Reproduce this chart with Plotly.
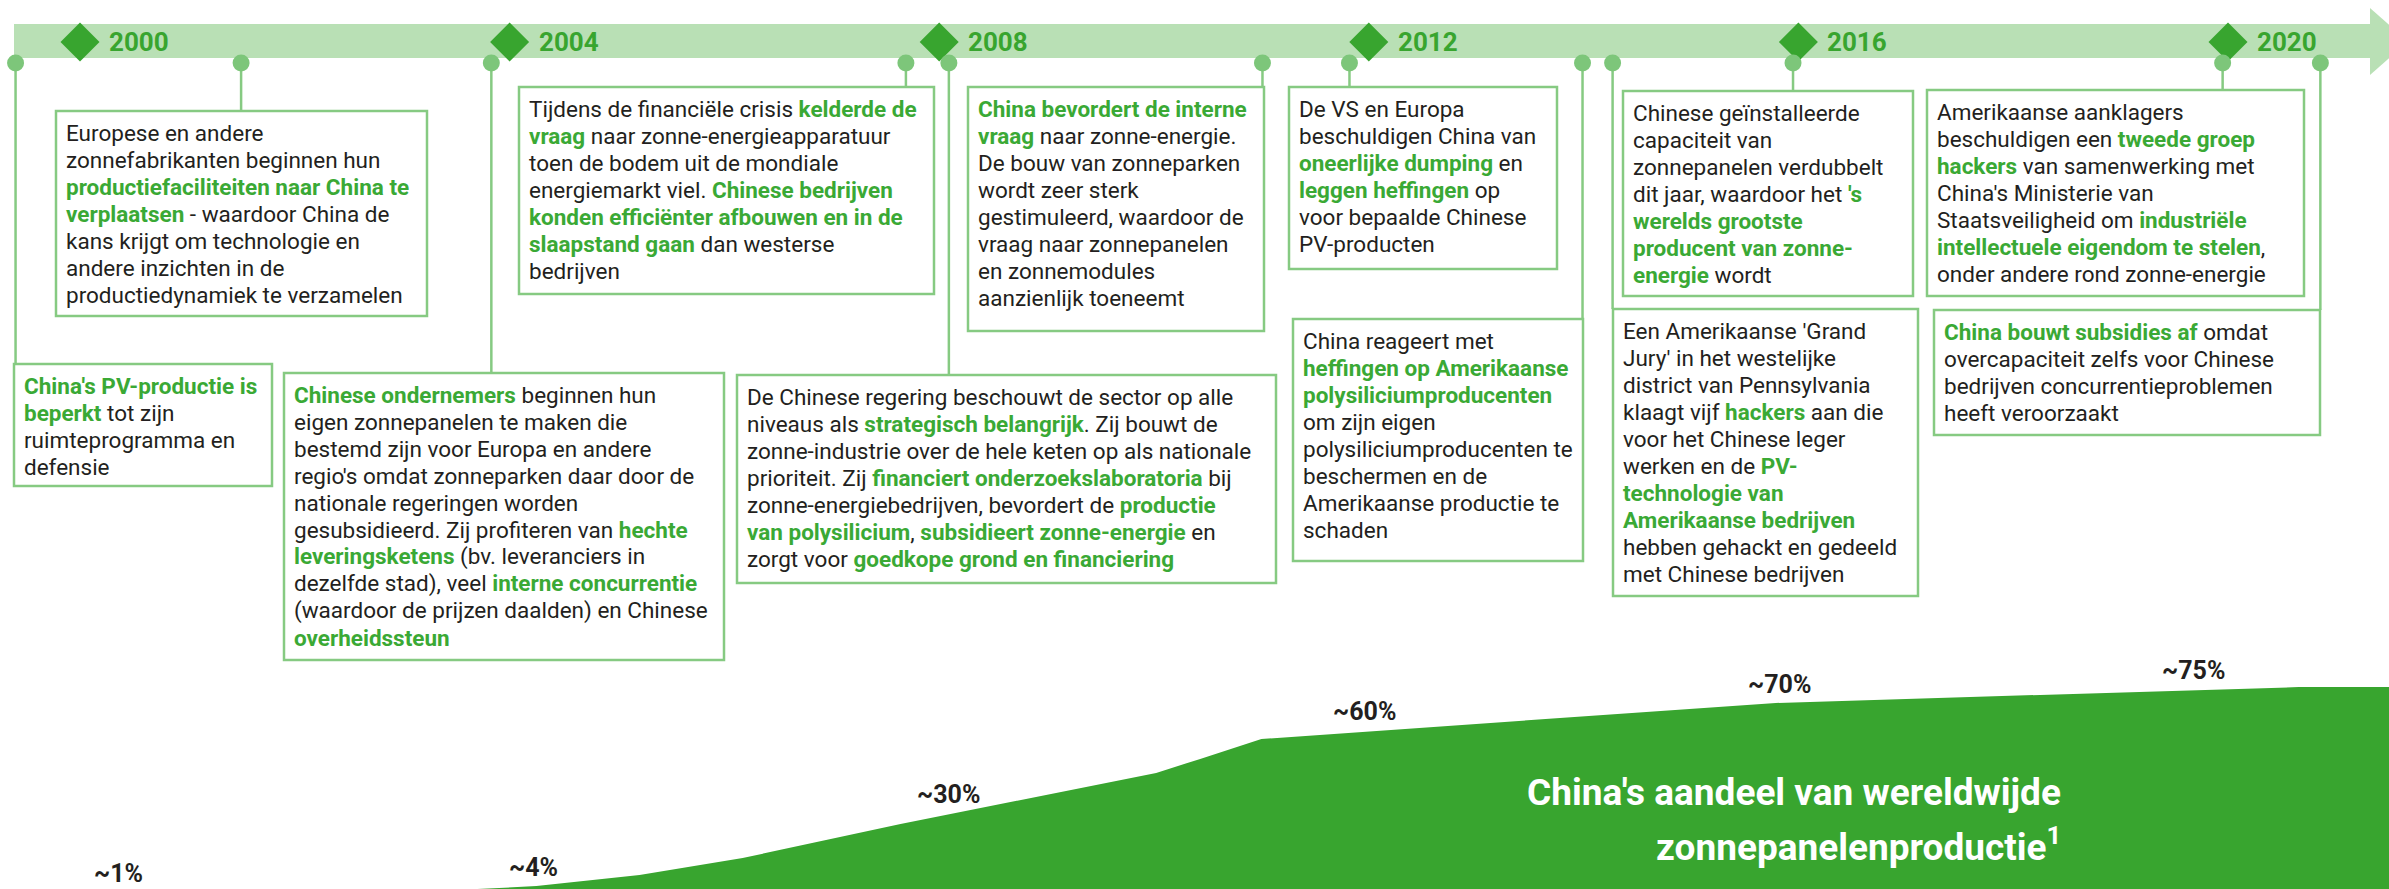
import re
import plotly.graph_objects as go

# timeline years and China's share of world solar panel production
year_ticks = [2000, 2004, 2008, 2012, 2016, 2020]
share_labels = ["~1%", "~4%", "~30%", "~60%", "~70%", "~75%"]

# outline of the green area (year, share %)
area_years = [2003.70, 2004.25, 2005.21, 2006.17, 2007.64, 2010.02, 2010.43, 2011.00, 2015.79, 2020.66, 2021.50]
area_share = [0, 1.1, 5.3, 11.7, 24.5, 43.8, 49.1, 56.6, 70.2, 76.2, 76.2]

# event dates on the timeline
event_years = [1999.40, 2001.50, 2003.83, 2007.69, 2008.09, 2011.01,
               2011.82, 2013.99, 2014.27, 2015.95, 2019.95, 2020.86]

event_texts = [
    ["**China's PV-productie is**",
     "**beperkt** tot zijn",
     "ruimteprogramma en",
     "defensie"],
    ["Europese en andere",
     "zonnefabrikanten beginnen hun",
     "**productiefaciliteiten naar China te**",
     "**verplaatsen** - waardoor China de",
     "kans krijgt om technologie en",
     "andere inzichten in de",
     "productiedynamiek te verzamelen"],
    ["**Chinese ondernemers** beginnen hun",
     "eigen zonnepanelen te maken die",
     "bestemd zijn voor Europa en andere",
     "regio's omdat zonneparken daar door de",
     "nationale regeringen worden",
     "gesubsidieerd. Zij profiteren van **hechte**",
     "**leveringsketens** (bv. leveranciers in",
     "dezelfde stad), veel **interne concurrentie**",
     "(waardoor de prijzen daalden) en Chinese",
     "**overheidssteun**"],
    ["Tijdens de financiële crisis **kelderde de**",
     "**vraag** naar zonne-energieapparatuur",
     "toen de bodem uit de mondiale",
     "energiemarkt viel. **Chinese bedrijven**",
     "**konden efficiënter afbouwen en in de**",
     "**slaapstand gaan** dan westerse",
     "bedrijven"],
    ["De Chinese regering beschouwt de sector op alle",
     "niveaus als **strategisch belangrijk**. Zij bouwt de",
     "zonne-industrie over de hele keten op als nationale",
     "prioriteit. Zij **financiert onderzoekslaboratoria** bij",
     "zonne-energiebedrijven, bevordert de **productie**",
     "**van polysilicium**, **subsidieert zonne-energie** en",
     "zorgt voor **goedkope grond en financiering**"],
    ["**China bevordert de interne**",
     "**vraag** naar zonne-energie.",
     "De bouw van zonneparken",
     "wordt zeer sterk",
     "gestimuleerd, waardoor de",
     "vraag naar zonnepanelen",
     "en zonnemodules",
     "aanzienlijk toeneemt"],
    ["De VS en Europa",
     "beschuldigen China van",
     "**oneerlijke dumping** en",
     "**leggen heffingen** op",
     "voor bepaalde Chinese",
     "PV-producten"],
    ["China reageert met",
     "**heffingen op Amerikaanse**",
     "**polysiliciumproducenten**",
     "om zijn eigen",
     "polysiliciumproducenten te",
     "beschermen en de",
     "Amerikaanse productie te",
     "schaden"],
    ["Een Amerikaanse 'Grand",
     "Jury' in het westelijke",
     "district van Pennsylvania",
     "klaagt vijf **hackers** aan die",
     "voor het Chinese leger",
     "werken en de **PV-**",
     "**technologie van**",
     "**Amerikaanse bedrijven**",
     "hebben gehackt en gedeeld",
     "met Chinese bedrijven"],
    ["Chinese geïnstalleerde",
     "capaciteit van",
     "zonnepanelen verdubbelt",
     "dit jaar, waardoor het **'s**",
     "**werelds grootste**",
     "**producent van zonne-**",
     "**energie** wordt"],
    ["Amerikaanse aanklagers",
     "beschuldigen een **tweede groep**",
     "**hackers** van samenwerking met",
     "China's Ministerie van",
     "Staatsveiligheid om **industriële**",
     "**intellectuele eigendom te stelen**,",
     "onder andere rond zonne-energie"],
    ["**China bouwt subsidies af** omdat",
     "overcapaciteit zelfs voor Chinese",
     "bedrijven concurrentieproblemen",
     "heeft veroorzaakt"],
]

# box frames in page pixels (left, top, right, bottom)
boxes = [
    (14, 364, 272, 486), (56, 111, 427, 316), (284, 373, 724, 660),
    (519, 87, 934, 294), (737, 375, 1276, 583), (968, 87, 1264, 331),
    (1289, 87, 1557, 269), (1293, 319, 1583, 561), (1613, 309, 1918, 596),
    (1623, 91, 1913, 296), (1927, 90, 2304, 296), (1934, 310, 2320, 435),
]

W, H = 2389, 889
PX_PER_PCT = 2.65
FONT = "Roboto, Liberation Sans, sans-serif"
GREEN = "#38a52f"
GREEN_TXT = "#3aa935"
LIGHT = "#b9e0b5"
BORDER = "#86ca82"
DOT = "#7dc67a"
INK = "#231f20"

label_x = [2000.36, 2004.22, 2008.09, 2011.96, 2015.82, 2019.68]
label_y = [5.7, 8.3, 35.5, 66.8, 77.0, 82.3]


def rich(s):
    return re.sub(r"\*\*(.+?)\*\*",
                  lambda m: "<b><span style='color:%s'>%s</span></b>" % (GREEN_TXT, m.group(1)), s)


fig = go.Figure()

# share area
fig.add_trace(go.Scatter(
    x=area_years, y=area_share, mode="lines", fill="tozeroy",
    fillcolor=GREEN, line=dict(color=GREEN, width=0), hoverinfo="skip",
    showlegend=False))

# year diamonds on the band
fig.add_trace(go.Scatter(
    x=year_ticks, y=[42] * len(year_ticks), xaxis="x", yaxis="y2",
    mode="markers", marker=dict(symbol="diamond", size=30, color=GREEN),
    showlegend=False, hoverinfo="skip"))

# event dots
fig.add_trace(go.Scatter(
    x=event_years, y=[63] * len(event_years), xaxis="x", yaxis="y2",
    mode="markers", marker=dict(symbol="circle", size=17, color=DOT),
    showlegend=False, hoverinfo="skip"))

shapes = []
# band + arrow head
shapes.append(dict(type="rect", xref="x2", yref="y2", x0=14, x1=2370, y0=24, y1=58,
                   fillcolor=LIGHT, line=dict(width=0), layer="below"))
shapes.append(dict(type="path", xref="x2", yref="y2", path="M 2370,8 L 2408,41.5 L 2370,75 Z",
                   fillcolor=LIGHT, line=dict(width=0), layer="below"))

annotations = []
for yr in year_ticks:
    annotations.append(dict(xref="x", yref="y2", x=yr, y=42, xshift=27, text="<b>%d</b>" % yr,
                            showarrow=False, xanchor="left", yanchor="middle",
                            font=dict(family=FONT, size=26, color=GREEN)))

for yr, (l, t, r, b), lines in zip(event_years, boxes, event_texts):
    shapes.append(dict(type="line", xref="x", yref="y2", x0=yr, x1=yr, y0=63, y1=t,
                       line=dict(color=BORDER, width=2.5), layer="below"))
    shapes.append(dict(type="rect", xref="x2", yref="y2", x0=l, x1=r, y0=t, y1=b,
                       fillcolor="white", line=dict(color=BORDER, width=2.5), layer="below"))
    for i, ln in enumerate(lines):
        annotations.append(dict(xref="x2", yref="y2", x=l + 8, y=t + 21.5 + i * 27,
                                text=rich(ln), showarrow=False, xanchor="left", yanchor="middle",
                                align="left", font=dict(family=FONT, size=22.5, color=INK)))

for lx, ly, s in zip(label_x, label_y, share_labels):
    annotations.append(dict(xref="x", yref="y", x=lx, y=ly, text="<b>%s</b>" % s,
                            showarrow=False, xanchor="center", yanchor="middle",
                            font=dict(family=FONT, size=25, color=INK)))

annotations.append(dict(xref="x2", yref="y2", x=2063, y=792,
                        text="<b>China's aandeel van wereldwijde</b>", showarrow=False,
                        xanchor="right", yanchor="middle",
                        font=dict(family=FONT, size=37, color="white")))
annotations.append(dict(xref="x2", yref="y2", x=2063, y=844,
                        text="<b>zonnepanelenproductie<sup>1</sup></b>", showarrow=False,
                        xanchor="right", yanchor="middle",
                        font=dict(family=FONT, size=37, color="white")))

x0 = 2000 - 80 / 107.4
x1 = 2000 + (W - 80) / 107.4
fig.update_layout(
    width=W, height=H, margin=dict(l=0, r=0, t=0, b=0),
    paper_bgcolor="white", plot_bgcolor="white",
    xaxis=dict(range=[x0, x1], visible=False, fixedrange=True),
    yaxis=dict(range=[0, H / PX_PER_PCT], visible=False, fixedrange=True),
    xaxis2=dict(range=[0, W], overlaying="x", anchor="y2", visible=False),
    yaxis2=dict(range=[H, 0], overlaying="y", anchor="x2", visible=False),
    shapes=shapes, annotations=annotations, showlegend=False,
)

fig.write_html("out.html", config={"displayModeBar": False},
               post_script="document.body.style.margin='0';")
